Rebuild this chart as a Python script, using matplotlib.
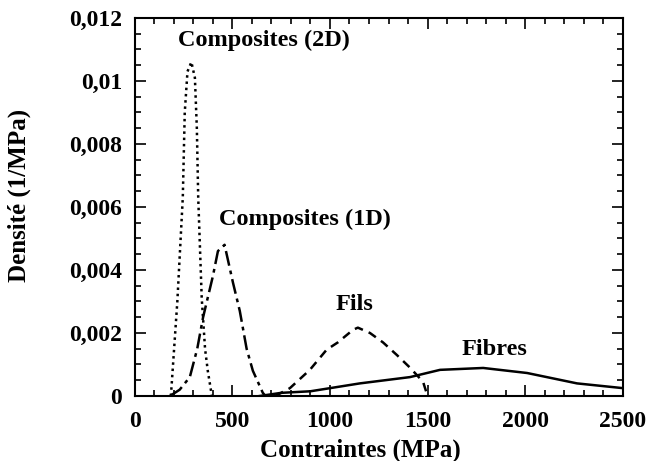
import matplotlib
matplotlib.use("Agg")
import matplotlib.pyplot as plt
from matplotlib.ticker import MultipleLocator, FuncFormatter

# Composites (2D) - pointillés
c2d_x = [185, 218, 246, 256, 270, 290, 308, 318, 325, 343, 360, 374, 395]
c2d_y = [0, 0.003, 0.0063, 0.0090, 0.0103, 0.0106, 0.0101, 0.0085, 0.0063, 0.0031, 0.0015, 0.0008, 0]

# Composites (1D) - tirets-points
c1d_x = [180, 230, 282, 320, 350, 400, 426, 460, 503, 538, 573, 605, 656, 670]
c1d_y = [0, 0.0002, 0.0006, 0.0015, 0.0025, 0.0038, 0.0046, 0.0048, 0.0036, 0.0027, 0.0015, 0.0008, 0.0001, 0]

# Fils - tirets
fils_x = [720, 795, 897, 983, 1040, 1118, 1143, 1205, 1272, 1343, 1410, 1477, 1500]
fils_y = [0, 0.00025, 0.00083, 0.00147, 0.0017, 0.0021, 0.00217, 0.0020, 0.0017, 0.0013, 0.0009, 0.00045, 0]

# Fibres - trait plein
fib_x = [640, 750, 900, 1153, 1410, 1564, 1785, 2010, 2266, 2500]
fib_y = [0, 0.0001, 0.00015, 0.0004, 0.0006, 0.00083, 0.00089, 0.00073, 0.0004, 0.00025]

labels = ["Composites (2D)", "Composites (1D)", "Fils", "Fibres"]
label_pos = [(661, 0.0113), (871, 0.00562), (1127, 0.0029), (1844, 0.00147)]

plt.rcParams["font.family"] = ["Liberation Serif", "DejaVu Serif"]
plt.rcParams["font.weight"] = "bold"

fig = plt.figure(figsize=(6.48, 4.61), dpi=100)
ax = fig.add_axes([0.208, 0.141, 0.753, 0.82])

ax.plot(c2d_x, c2d_y, color="black", linestyle=(0, (1, 1.5)), linewidth=1.8)
ax.plot(c1d_x, c1d_y, color="black", linestyle=(0, (6, 2, 1.5, 2)), linewidth=1.8)
ax.plot(fils_x, fils_y, color="black", linestyle=(0, (3.5, 2.5)), linewidth=1.8)
ax.plot(fib_x, fib_y, color="black", linestyle="-", linewidth=1.8)

for txt, (x, y) in zip(labels, label_pos):
    ax.text(x, y, txt, ha="center", va="center", fontsize=17.5, fontweight="bold")

ax.set_xlim(0, 2500)
ax.set_ylim(0, 0.012)
ax.xaxis.set_major_locator(MultipleLocator(500))
ax.xaxis.set_minor_locator(MultipleLocator(100))
ax.yaxis.set_major_locator(MultipleLocator(0.002))
ax.yaxis.set_minor_locator(MultipleLocator(0.0005))
ax.yaxis.set_major_formatter(FuncFormatter(lambda v, p: ("%g" % round(v, 4)).replace(".", ",")))
ax.tick_params(which="both", direction="in", top=True, right=True, labelsize=17, width=1.2)
ax.tick_params(which="major", length=8)
ax.tick_params(which="minor", length=4)
ax.tick_params(axis="x", which="major", pad=11)
ax.tick_params(axis="y", which="major", pad=9)
for s in ax.spines.values():
    s.set_linewidth(1.5)

ax.set_xlabel("Contraintes (MPa)", fontsize=18, fontweight="bold")
ax.set_ylabel("Densité (1/MPa)", fontsize=18, fontweight="bold")
ax.xaxis.set_label_coords(0.463, -0.143)
ax.xaxis.label.set_verticalalignment("center")
ax.yaxis.set_label_coords(-0.236, 0.53)
ax.yaxis.label.set_verticalalignment("center")

fig.savefig("out.png", dpi=100)
